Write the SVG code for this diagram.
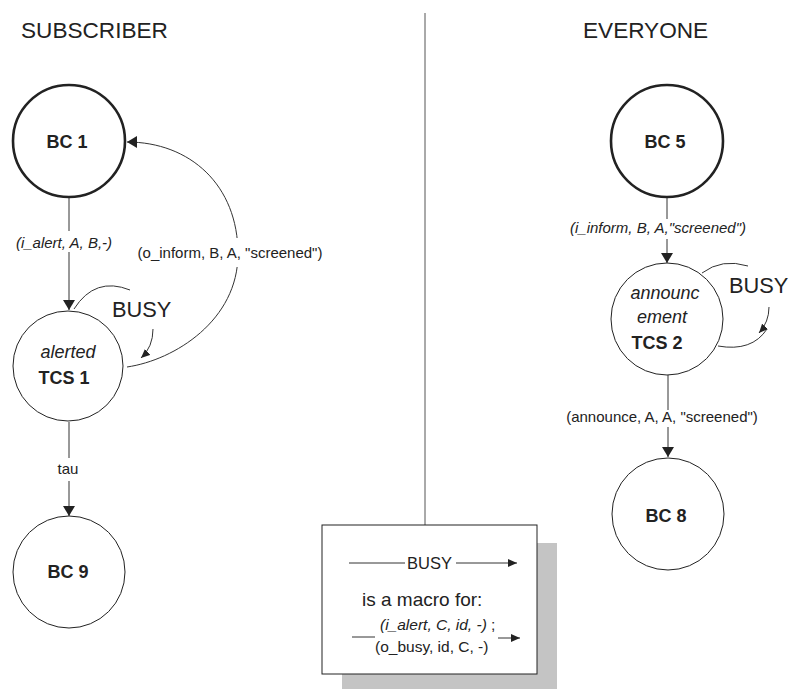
<svg xmlns="http://www.w3.org/2000/svg" width="789" height="689" viewBox="0 0 789 689">
  <style>
    text { font-family: "Liberation Sans", Arial, sans-serif; fill: #222; }
    .head { font-size: 22.6px; }
    .state { font-size: 18px; font-weight: bold; }
    .name { font-size: 18px; font-style: italic; }
    .lbl { font-size: 15px; }
    .it { font-style: italic; }
    .busy { font-size: 21.8px; }
    .node-bc { fill: #fff; stroke: #222; stroke-width: 2.6; }
    .node { fill: #fff; stroke: #222; stroke-width: 1; }
    .edge { fill: none; stroke: #333; stroke-width: 1; }
    .bg { fill: #fff; stroke: none; }
  </style>
  <defs>
    <marker id="head" viewBox="0 0 10 12" refX="10" refY="6" markerWidth="10" markerHeight="12" markerUnits="userSpaceOnUse" orient="auto">
      <path d="M0,0 L10,6 L0,12 z" fill="#222"/>
    </marker>
    <marker id="headSmall" viewBox="0 0 9 8" refX="9" refY="4" markerWidth="9" markerHeight="8" markerUnits="userSpaceOnUse" orient="auto">
      <path d="M0,0 L9,4 L0,8 z" fill="#222"/>
    </marker>
  </defs>

  <!-- column headings and divider -->
  <text class="head" x="21" y="38">SUBSCRIBER</text>
  <text class="head" x="583" y="38">EVERYONE</text>
  <line x1="425" y1="13" x2="425" y2="525" stroke="#555" stroke-width="1"/>

  <!-- connectors -->
  <g id="connectors">
    <!-- BC1 -> TCS1 -->
    <line class="edge" x1="69" y1="197" x2="69" y2="310" marker-end="url(#head)"/>
    <rect class="bg" x="14" y="231" width="100" height="21"/>
    <text class="lbl it" x="64" y="248" text-anchor="middle">(i_alert, A, B,-)</text>

    <!-- TCS1 -> BC1 -->
    <path class="edge" d="M127,367 C175,360 238,320 238,254 C238,185 190,142 127,142" marker-end="url(#head)"/>
    <rect class="bg" x="136" y="238" width="190" height="29"/>
    <text class="lbl" x="230" y="258" text-anchor="middle">(o_inform, B, A, "screened")</text>

    <!-- BUSY loop on TCS1 -->
    <path class="edge" d="M74,309 Q95,276 130,290"/>
    <text class="busy" x="112" y="317">BUSY</text>
    <path class="edge" d="M153,329 Q153,347 141,358" marker-end="url(#headSmall)"/>

    <!-- TCS1 -> BC9 -->
    <line class="edge" x1="69" y1="422" x2="69" y2="516" marker-end="url(#head)"/>
    <rect class="bg" x="55" y="458" width="28" height="23"/>
    <text class="lbl" x="68" y="474" text-anchor="middle">tau</text>

    <!-- BC5 -> TCS2 -->
    <line class="edge" x1="667" y1="197" x2="667" y2="263" marker-end="url(#head)"/>
    <rect class="bg" x="562" y="219" width="192" height="20"/>
    <text class="lbl it" x="658" y="233" text-anchor="middle">(i_inform, B, A,"screened")</text>

    <!-- BUSY loop on TCS2 -->
    <path class="edge" d="M702,273 Q722,258 748,266"/>
    <text class="busy" x="729" y="293">BUSY</text>
    <path class="edge" d="M769,307 Q769,322 759,333" marker-end="url(#headSmall)"/>
    <path class="edge" d="M718,346 Q752,352 767,329"/>

    <!-- TCS2 -> BC8 -->
    <line class="edge" x1="668" y1="375" x2="668" y2="457" marker-end="url(#head)"/>
    <rect class="bg" x="556" y="410" width="212" height="17"/>
    <text class="lbl" x="662" y="422" text-anchor="middle">(announce, A, A, "screened")</text>
  </g>

  <!-- states -->
  <g id="bc1">
    <circle class="node-bc" cx="69" cy="141" r="56"/>
    <text class="state" x="67" y="148" text-anchor="middle">BC 1</text>
  </g>
  <g id="tcs1">
    <circle class="node" cx="68" cy="366" r="55"/>
    <text class="name" x="68" y="358" text-anchor="middle">alerted</text>
    <text class="state" x="64" y="384" text-anchor="middle">TCS 1</text>
  </g>
  <g id="bc9">
    <circle class="node" cx="69" cy="572" r="56"/>
    <text class="state" x="68" y="578" text-anchor="middle">BC 9</text>
  </g>
  <g id="bc5">
    <circle class="node-bc" cx="667" cy="141" r="56"/>
    <text class="state" x="665" y="148" text-anchor="middle">BC 5</text>
  </g>
  <g id="tcs2">
    <circle class="node" cx="667" cy="319" r="56"/>
    <text class="name" x="665" y="299" text-anchor="middle">announc</text>
    <text class="name" x="662" y="323" text-anchor="middle">ement</text>
    <text class="state" x="657" y="349" text-anchor="middle">TCS 2</text>
  </g>
  <g id="bc8">
    <circle class="node" cx="668" cy="514" r="56"/>
    <text class="state" x="666" y="522" text-anchor="middle">BC 8</text>
  </g>

  <!-- macro legend -->
  <g id="legend">
    <rect x="342" y="543" width="215" height="146" fill="#c4c4c4"/>
    <rect x="322" y="525" width="215" height="149" fill="#fff" stroke="#222" stroke-width="1"/>
    <line class="edge" x1="349" y1="563" x2="405" y2="563"/>
    <text x="407" y="569" style="font-size:16.5px">BUSY</text>
    <line class="edge" x1="456" y1="563" x2="517" y2="563" marker-end="url(#headSmall)"/>
    <text x="362" y="606" style="font-size:19px">is a macro for:</text>
    <line class="edge" x1="352" y1="637" x2="375" y2="637"/>
    <text x="380" y="630" style="font-size:15.5px"><tspan class="it">(i_alert, C, id, -)</tspan> ;</text>
    <text x="375" y="652" style="font-size:15.5px">(o_busy, id, C, -)</text>
    <line class="edge" x1="498" y1="638" x2="520" y2="638" marker-end="url(#headSmall)"/>
  </g>
</svg>
